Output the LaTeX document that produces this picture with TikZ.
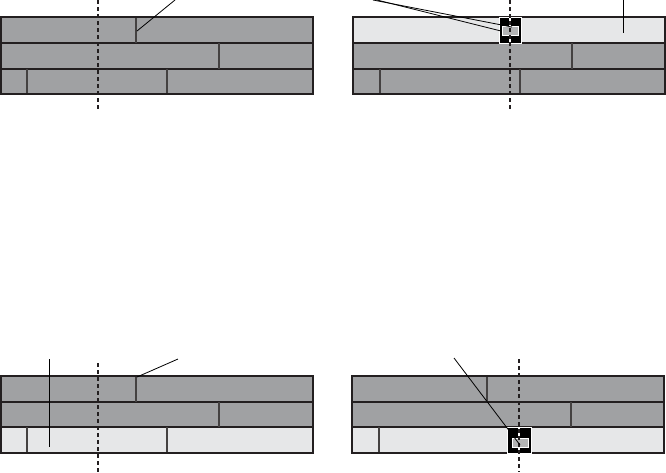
\documentclass[tikz,border=0pt]{standalone}
\begin{document}
\begin{tikzpicture}[x=1pt,y=-1pt]
\definecolor{dk}{HTML}{A0A1A3}
\definecolor{lt}{HTML}{E6E7E8}
\definecolor{ln}{HTML}{231F20}
\tikzset{
  outerbox/.style={draw=ln,line width=1.6pt},
  rowsep/.style={draw=ln,line width=1.3pt},
  vdiv/.style={draw=ln!85,line width=1.1pt},
  cutline/.style={draw=ln,line width=1.2pt,dash pattern=on 4pt off 3pt},
  leader/.style={draw=black,line width=0.8pt},
  gapbox/.style={fill=black,draw=white,line width=0.9pt},
  grayin/.style={fill=dk!80,draw=white,line width=0.9pt}
}
\useasboundingbox (0,0) rectangle (666,472);
% ---------- Panel 1 (top left)
\fill[dk] (1,17) rectangle (313,94);
\draw[rowsep] (1,43) -- (313,43);
\draw[rowsep] (1,69) -- (313,69);
\draw[vdiv] (136,17) -- (136,43);
\draw[vdiv] (219,43) -- (219,69);
\draw[vdiv] (27,69) -- (27,94);
\draw[vdiv] (167,69) -- (167,94);
\draw[outerbox] (1,17) rectangle (313,94);
\draw[cutline] (98,0) -- (98,110);
\coordinate (p1a) at (137,31);
\coordinate (p1b) at (175,0);
\draw[leader] (p1a) -- (p1b);
% ---------- Panel 2 (top right)
\fill[lt] (353,17) rectangle (665,43);
\fill[dk] (353,43) rectangle (665,94);
\draw[rowsep] (353,43) -- (665,43);
\draw[rowsep] (353,69) -- (665,69);
\draw[vdiv] (572,43) -- (572,69);
\draw[vdiv] (380,69) -- (380,94);
\draw[vdiv] (520,69) -- (520,94);
\draw[outerbox] (353,17) rectangle (665,94);
\draw[cutline] (510,0) -- (510,110);
\draw[gapbox] (499,17) rectangle (521,43);
\fill[white] (508.6,17) rectangle (511.2,43);
\draw[grayin] (502,26) rectangle (518,35);
\draw[cutline] (510,0) -- (510,110);
\coordinate (p2s1) at (373,0);
\coordinate (p2s2) at (377,0);
\coordinate (p2e1) at (512,27);
\coordinate (p2e2) at (501,31);
\draw[leader] (p2s1) -- (p2e1);
\draw[leader] (p2s2) -- (p2e2);
\coordinate (p2v1) at (623,0);
\coordinate (p2v2) at (623,33);
\draw[leader] (p2v1) -- (p2v2);
% ---------- Panel 3 (bottom left)
\fill[dk] (1,376) rectangle (313,427);
\fill[lt] (1,427) rectangle (313,453);
\draw[rowsep] (1,402) -- (313,402);
\draw[rowsep] (1,427) -- (313,427);
\draw[vdiv] (136,376) -- (136,402);
\draw[vdiv] (219,402) -- (219,427);
\draw[vdiv] (27,427) -- (27,453);
\draw[vdiv] (167,427) -- (167,453);
\draw[outerbox] (1,376) rectangle (313,453);
\draw[cutline] (98,363) -- (98,472);
\coordinate (p3a) at (137,377);
\coordinate (p3b) at (178,359);
\draw[leader] (p3a) -- (p3b);
\coordinate (p3v1) at (49,359);
\coordinate (p3v2) at (49,447);
\draw[leader] (p3v1) -- (p3v2);
% ---------- Panel 4 (bottom right)
\fill[dk] (352,376) rectangle (664,427);
\fill[lt] (352,427) rectangle (664,453);
\draw[rowsep] (352,402) -- (664,402);
\draw[rowsep] (352,427) -- (664,427);
\draw[vdiv] (487,376) -- (487,402);
\draw[vdiv] (571,402) -- (571,427);
\draw[vdiv] (379,427) -- (379,453);
\draw[outerbox] (352,376) rectangle (664,453);
\draw[gapbox] (507,427) rectangle (531,453);
\fill[white] (517.6,427) rectangle (520.2,453);
\draw[grayin] (512,438) rectangle (528,447);
\draw[cutline] (519,359) -- (519,472);
\coordinate (p4a) at (454,358);
\coordinate (p4b) at (520,445);
\draw[leader] (p4a) -- (p4b);
\end{tikzpicture}
\end{document}
